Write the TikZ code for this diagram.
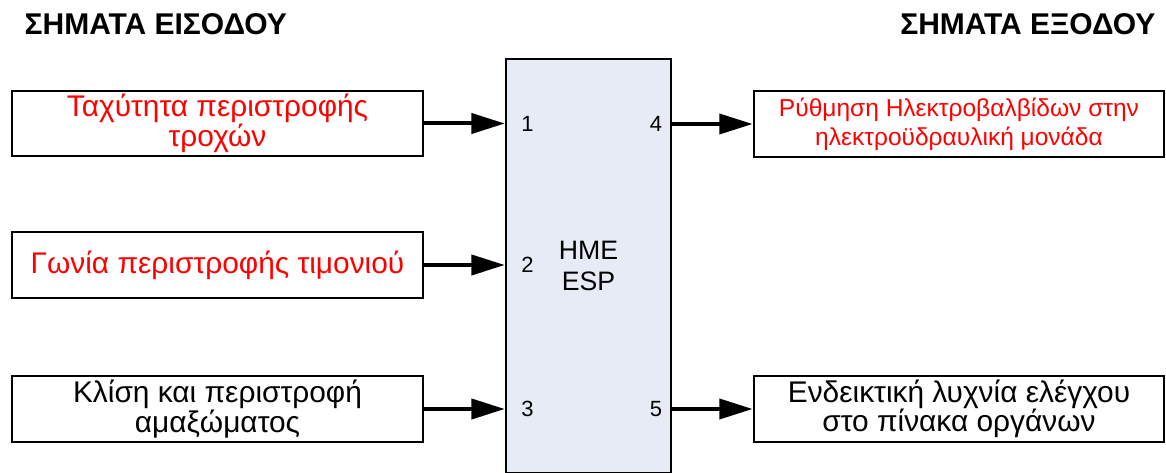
\documentclass[tikz,border=0pt]{standalone}
\usepackage{fontspec}
\setmainfont{Liberation Sans}
\usetikzlibrary{arrows.meta}
\definecolor{espfill}{RGB}{230,235,246}

\begin{document}
\begin{tikzpicture}[x=0.75pt,y=-0.75pt,
  sigbox/.style={draw,line width=1.6pt,minimum width=308pt,minimum height=49pt,inner sep=0pt,align=center,font=\fontsize{22.4}{22}\selectfont},
  outbox/.style={sigbox,font=\fontsize{18.4}{21.5}\selectfont},
  wire/.style={line width=3pt,-{Triangle[length=25pt,width=15pt]}},
  pin/.style={font=\fontsize{16.5}{19}\selectfont},
  heading/.style={font=\bfseries\fontsize{22.5}{26}\selectfont}]
 \useasboundingbox (0,0) rectangle (1166,473);
 % headings
 \node[heading,anchor=west] (hin) at (20,24) {ΣΗΜΑΤΑ ΕΙΣΟΔΟΥ};
 \node[heading,anchor=east] (hout) at (1160,24) {ΣΗΜΑΤΑ ΕΞΟΔΟΥ};
 % control unit
 \node[draw,line width=1.6pt,fill=espfill,minimum width=124pt,minimum height=310pt,align=center,font=\fontsize{20}{23}\selectfont] (esp) at (588.5,266) {HME\\ESP};
 % inputs
 \node[sigbox,text=red] (in1) at (217.5,123.5) {Ταχύτητα περιστροφής\\τροχών};
 \node[sigbox,text=red] (in2) at (217.5,265) {Γωνία περιστροφής τιμονιού};
 \node[sigbox] (in3) at (217.5,409) {Κλίση και περιστροφή\\αμαξώματος};
 % outputs
 \node[outbox,text=red] (out1) at (959,124) {Ρύθμηση Ηλεκτροβαλβίδων στην\\ηλεκτροϋδραυλική μονάδα};
 \node[sigbox] (out2) at (959,409) {Ενδεικτική λυχνία ελέγχου\\στο πίνακα οργάνων};
 % connectors
 \foreach \s/\n in {in1/1,in2/2,in3/3}{
  \draw[wire] (\s.east) -- (\s.east -| esp.west) coordinate (p\n);
  \node[pin,anchor=west] (pin\n) at ([xshift=9pt]p\n) {\n};
 }
 \foreach \s/\n in {out1/4,out2/5}{
  \draw[wire] (\s.west -| esp.east) coordinate (p\n) -- (\s.west);
  \node[pin,anchor=east] (pin\n) at ([xshift=-4pt]p\n) {\n};
 }
\end{tikzpicture}
\end{document}
